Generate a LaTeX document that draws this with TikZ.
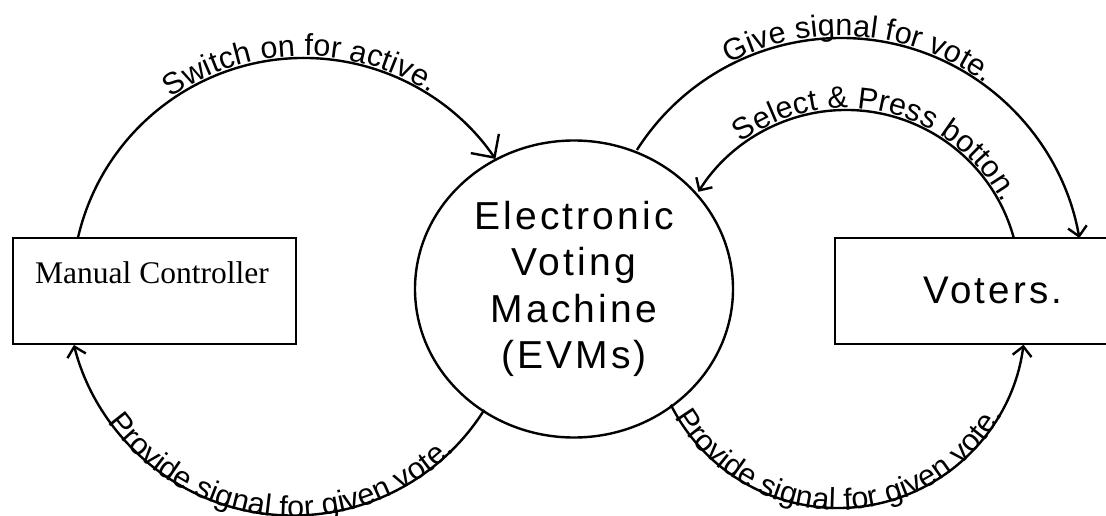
\documentclass[tikz,border=0pt]{standalone}
\usepackage{fontspec}
\setmainfont{Liberation Serif}
\newfontfamily\arialfont{Liberation Sans}
\newfontfamily\arialsp[LetterSpace=8]{Liberation Sans}
\newcommand\arclabelfont{\arialfont\fontsize{30.5pt}{36pt}\selectfont}
\usetikzlibrary{shapes.geometric,arrows.meta,decorations.text,calc}
\begin{document}
\begin{tikzpicture}[x=1pt,y=1pt,
  ln/.style={line width=2.4pt},
  arr/.style={ln,-{Straight Barb[length=9.5pt,width=19pt]}},
  bigarr/.style={ln,-{Straight Barb[length=17pt,width=34pt]}},
  box/.style={draw,ln,rectangle,inner sep=0pt},
  arctext/.style={decoration={text along path,text align=center}}
]
\useasboundingbox (0,0) rectangle (1106,515);
\clip (0,0) rectangle (1106,515);

% nodes
\node[box,minimum width=283.3pt,minimum height=106.3pt] (mc) at (154.35,224.15) {};
\node[anchor=base,font=\fontsize{31.5pt}{36pt}\selectfont] (mctext) at (152,232) {Manual Controller};
\node[box,minimum width=316pt,minimum height=106.3pt,
      font=\arialsp\fontsize{38.5pt}{46pt}\selectfont] (voters) at (993,224.15) {Voters.};
\node[draw,ln,ellipse,minimum width=318pt,minimum height=297pt,inner sep=0pt,align=center,
      font=\arialsp\fontsize{39pt}{46.5pt}\selectfont] (evm) at (574,226)
      {Electronic\\Voting\\Machine\\(EVMs)};

% arc centres
\coordinate (c1) at (304,225);
\coordinate (c2) at (841,235);
\coordinate (c3) at (846,231);
\coordinate (c4) at (293,225.5);
\coordinate (c5) at (838,194);

% connector end points
\coordinate (s1) at ($(c1)+(167:232)$);
\coordinate (s2) at ($(c2)+(147.5:242)$);
\coordinate (s3) at ($(c3)+(15.3:174)$);
\coordinate (s4) at ($(c4)+(-32.2:226)$);
\coordinate (s5) at ($(c5)+(206.6:187)$);

% connectors
\draw[bigarr] (s1) arc[start angle=167,end angle=34.4,radius=232];
\draw[arr] (s2) arc[start angle=147.5,end angle=10,radius=242];
\draw[arr] (s3) arc[start angle=15.3,end angle=148,radius=174];
\draw[arr] (s4) arc[start angle=-32.2,end angle=-165.8,radius=226];
\draw[arr] (s5) arc[start angle=206.6,end angle=352.7,radius=187];

% labels along connectors
\path[arctext,decoration={raise=2pt,text={|\arclabelfont|Switch on for active.}},decorate]
  ($(c1)+(150:232)$) arc[start angle=150,end angle=32,radius=232];
\path[arctext,decoration={raise=2pt,text={|\arclabelfont|Give signal for vote.}},decorate]
  ($(c2)+(140:242)$) arc[start angle=140,end angle=31,radius=242];
\path[arctext,decoration={raise=2pt,text={|\arclabelfont|Select {\&} Press botton.}},decorate]
  ($(c3)+(140:174)$) arc[start angle=140,end angle=14,radius=174];
\path[arctext,decoration={raise=-2pt,text={|\arclabelfont|Provide signal for given vote.}},decorate]
  ($(c4)+(200:226)$) arc[start angle=200,end angle=330.7,radius=226];
\path[arctext,decoration={raise=-2pt,text={|\arclabelfont|Provide signal for given vote.}},decorate]
  ($(c5)+(200:187)$) arc[start angle=200,end angle=341,radius=187];
\end{tikzpicture}
\end{document}
